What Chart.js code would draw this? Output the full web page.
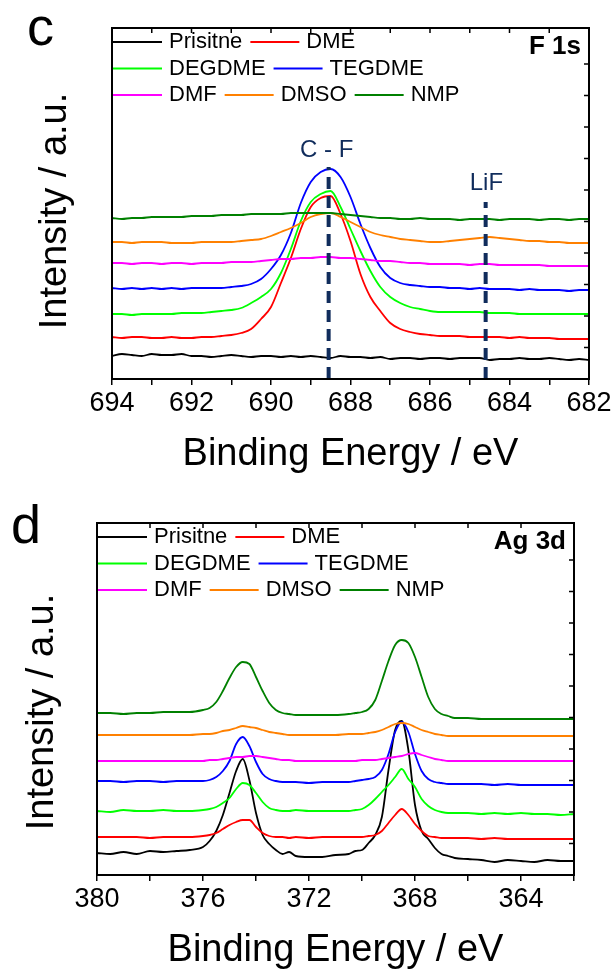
<!DOCTYPE html>
<html>
<head>
<meta charset="utf-8">
<script src="https://cdn.jsdelivr.net/npm/chart.js@4.4.1/dist/chart.umd.min.js"></script>
<style>
  html, body { margin: 0; padding: 0; background: #ffffff; }
  #wrap { position: relative; width: 616px; height: 970px; }
  canvas { position: absolute; left: 0; }
  #cvF { top: 0; }
  #cvAg { top: 485px; }
</style>
</head>
<body>
<div id="wrap">
  <canvas id="cvF" width="616" height="485"></canvas>
  <canvas id="cvAg" width="616" height="485"></canvas>
</div>
<script>
// ---- series names / colours shared by both panels ----
const seriesNames = ['Prisitne', 'DME', 'DEGDME', 'TEGDME', 'DMF', 'DMSO', 'NMP'];
const seriesColors = ['#000000', '#ff0000', '#00ff00', '#0000ff', '#ff00ff', '#ff8000', '#008000'];
const legendRows = [[0, 1], [2, 3], [4, 5, 6]];

// ---- F 1s spectra (binding energy, eV) ----
const f1sEnergy = [694, 693.75, 693.5, 693.25, 693, 692.75, 692.5, 692.25, 692, 691.75, 691.5, 691.25, 691, 690.75, 690.5, 690.25, 690, 689.75, 689.5, 689.25, 689, 688.75, 688.5, 688.25, 688, 687.75, 687.5, 687.25, 687, 686.75, 686.5, 686.25, 686, 685.75, 685.5, 685.25, 685, 684.75, 684.5, 684.25, 684, 683.75, 683.5, 683.25, 683, 682.75, 682.5, 682.25, 682];
const f1sPrisitne = [23, 25, 24, 23, 25, 24, 24, 25, 23, 23, 22, 23, 24, 23, 22, 23, 23, 22, 23, 22, 23, 22, 21, 23, 22, 22, 21, 22, 20, 21, 21, 20, 21, 21, 20, 21, 21, 21, 19, 20, 20, 21, 20, 20, 21, 20, 19, 20, 19];
const f1sDME = [42, 41, 42, 42, 41, 41, 42, 41, 41, 42, 42, 43, 44, 46, 50, 60, 72, 96, 121, 150, 172, 181, 183, 165, 138, 105, 82, 68, 56, 50, 47, 45, 44, 43, 43, 43, 42, 42, 42, 42, 41, 42, 41, 41, 41, 40, 40, 40, 40];
const f1sDEGDME = [65, 65, 64, 65, 65, 65, 65, 66, 66, 66, 67, 68, 69, 71, 76, 82, 90, 106, 130, 158, 177, 185, 188, 172, 150, 128, 108, 92, 82, 76, 72, 70, 68, 67, 67, 67, 67, 67, 66, 66, 66, 65, 65, 65, 65, 65, 65, 65, 65];
const f1sTEGDME = [91, 90, 91, 90, 91, 90, 91, 90, 91, 91, 91, 91, 92, 93, 95, 100, 110, 124, 146, 176, 197, 207, 210, 202, 182, 155, 131, 112, 101, 96, 94, 93, 92, 92, 91, 91, 90, 91, 90, 90, 90, 89, 90, 89, 89, 89, 88, 89, 89];
const f1sDMF = [116, 116, 115, 116, 116, 115, 116, 116, 115, 116, 116, 116, 117, 117, 117, 118, 119, 120, 120, 121, 121, 122, 122, 121, 121, 120, 119, 118, 118, 117, 116, 116, 115, 115, 115, 115, 114, 115, 115, 114, 114, 114, 114, 114, 113, 113, 113, 113, 113];
const f1sDMSO = [137, 137, 136, 137, 137, 137, 136, 136, 136, 137, 137, 137, 137, 138, 139, 140, 143, 147, 151, 156, 162, 165, 166, 162, 157, 152, 147, 144, 142, 140, 139, 138, 137, 137, 138, 139, 140, 141, 142, 141, 140, 139, 138, 138, 137, 137, 136, 136, 136];
const f1sNMP = [161, 160, 161, 161, 162, 162, 162, 162, 163, 163, 163, 164, 164, 164, 165, 165, 165, 165, 166, 166, 166, 166, 166, 165, 164, 163, 162, 161, 161, 160, 160, 161, 160, 160, 160, 159, 160, 160, 160, 159, 160, 160, 160, 159, 160, 160, 159, 160, 160];
const f1sTicks = [694, 692, 690, 688, 686, 684, 682];
// peak markers: position, top of dashed line, caption
const f1sMarkerEnergy = [688.55, 684.6];
const f1sMarkerTop = [212, 177];
const f1sMarkerText = ['C - F', 'LiF'];
const f1sMarkerTextY = [229, 196];

// ---- Ag 3d spectra (binding energy, eV) ----
const agEnergy = [380, 379.5, 379, 378.5, 378, 377.5, 377, 376.5, 376, 375.75, 375.5, 375.25, 375, 374.75, 374.5, 374.25, 374, 373.75, 373.5, 373.25, 373, 372.75, 372.5, 372, 371.5, 371, 370.5, 370.25, 370, 369.75, 369.5, 369.25, 369, 368.75, 368.5, 368.25, 368, 367.75, 367.5, 367.25, 367, 366.75, 366.5, 366, 365.5, 365, 364.5, 364, 363.5, 363, 362.5, 362];
const agPrisitne = [22, 21, 23, 21, 24, 23, 24, 25, 28, 34, 44, 60, 82, 104, 116, 95, 62, 40, 31, 25, 21, 23, 19, 18, 18, 20, 21, 24, 25, 32, 40, 58, 105, 145, 154, 125, 70, 44, 36, 27, 21, 19, 17, 16, 15, 13, 15, 14, 13, 15, 14, 14];
const agDME = [38, 38, 38, 38, 37, 38, 38, 38, 39, 40, 42, 46, 50, 53, 55, 55, 48, 42, 39, 38, 38, 37, 38, 37, 38, 38, 38, 38, 38, 39, 40, 44, 52, 60, 66, 60, 51, 44, 39, 38, 37, 37, 37, 37, 36, 37, 36, 36, 36, 36, 36, 36];
const agDEGDME = [64, 63, 65, 64, 64, 65, 64, 64, 65, 66, 68, 72, 77, 86, 92, 90, 82, 73, 67, 65, 64, 64, 65, 64, 64, 64, 64, 65, 66, 70, 76, 83, 90, 98, 106, 96, 88, 76, 69, 65, 63, 62, 62, 62, 61, 62, 61, 62, 61, 61, 60, 61];
const agTEGDME = [94, 94, 93, 94, 94, 93, 94, 94, 94, 95, 98, 104, 114, 131, 138, 129, 113, 101, 96, 94, 93, 93, 93, 92, 93, 93, 93, 94, 95, 96, 98, 105, 121, 143, 153, 143, 121, 104, 96, 93, 92, 91, 91, 91, 91, 90, 91, 90, 90, 90, 90, 90];
const agDMF = [114, 114, 114, 114, 114, 114, 114, 114, 114, 115, 115, 116, 117, 118, 118, 119, 119, 118, 117, 116, 115, 115, 114, 114, 114, 114, 114, 114, 115, 115, 115, 116, 117, 118, 119, 121, 122, 120, 118, 116, 115, 114, 114, 114, 114, 114, 114, 114, 114, 114, 114, 114];
const agDMSO = [140, 140, 140, 140, 140, 140, 140, 140, 141, 141, 142, 144, 145, 147, 149, 148, 147, 145, 143, 142, 141, 140, 140, 140, 140, 140, 141, 141, 141, 142, 143, 145, 148, 151, 152, 151, 148, 145, 143, 141, 140, 139, 139, 139, 139, 139, 139, 139, 139, 139, 139, 139];
const agNMP = [162, 162, 161, 162, 162, 163, 163, 163, 165, 167, 173, 184, 197, 208, 213, 211, 198, 184, 172, 165, 162, 161, 160, 160, 160, 160, 161, 162, 163, 166, 175, 194, 214, 230, 235, 232, 218, 198, 178, 166, 161, 159, 157, 157, 156, 156, 156, 156, 156, 156, 156, 156];
const agTicks = [380, 376, 372, 368, 364];

const FONT = '"Liberation Sans", Arial, Helvetica, sans-serif';
const MARKER_COLOR = '#102c5c';

function toPoints(xs, ys) {
  return xs.map((x, i) => ({ x: x, y: ys[i] }));
}

function spectrumDatasets(energy, seriesList) {
  return seriesList.map((vals, i) => ({
    label: seriesNames[i],
    data: toPoints(energy, vals),
    borderColor: seriesColors[i],
    backgroundColor: seriesColors[i],
    borderWidth: 1.8,
    pointRadius: 0,
    cubicInterpolationMode: 'monotone',
    fill: false,
    order: 1 + (seriesList.length - 1 - i)
  }));
}

// frame, inward ticks, in-plot legend and annotations
const decorPlugin = {
  id: 'decor',
  afterDraw(chart, args, o) {
    const ctx = chart.ctx;
    const a = chart.chartArea;
    const xs = chart.scales.x;
    const ys = chart.scales.y;
    ctx.save();

    // axis frame
    ctx.strokeStyle = '#000';
    ctx.lineWidth = 2;
    ctx.strokeRect(a.left, a.top, a.right - a.left, a.bottom - a.top);

    // mirror ticks pointing inward on top and right edges
    ctx.lineWidth = 1.5;
    ctx.beginPath();
    xs.ticks.forEach(t => {
      const px = xs.getPixelForValue(t.value);
      ctx.moveTo(px, a.top);
      ctx.lineTo(px, a.top + 5);
    });
    ys.ticks.forEach(t => {
      const py = ys.getPixelForValue(t.value);
      if (py > a.top + 2 && py < a.bottom - 2) {
        ctx.moveTo(a.right, py);
        ctx.lineTo(a.right - 5, py);
      }
    });
    ctx.stroke();

    // legend: short line + label, fixed rows
    ctx.font = '22px ' + FONT;
    ctx.textBaseline = 'middle';
    ctx.textAlign = 'left';
    legendRows.forEach((row, r) => {
      let x = a.left + 1;
      const y = a.top + o.rowY[r];
      row.forEach(i => {
        const ds = chart.data.datasets[i];
        ctx.strokeStyle = ds.borderColor;
        ctx.lineWidth = 1.8;
        ctx.beginPath();
        ctx.moveTo(x, y);
        ctx.lineTo(x + 49, y);
        ctx.stroke();
        ctx.fillStyle = '#000';
        ctx.fillText(ds.label, x + 56, y);
        x += 56 + ctx.measureText(ds.label).width + 8;
      });
    });

    // core-level tag
    ctx.font = 'bold 26px ' + FONT;
    ctx.textAlign = 'right';
    ctx.fillStyle = '#000';
    ctx.fillText(o.tag, a.right - 8, a.top + 19);

    // marker captions
    if (o.markers) {
      ctx.font = '24px ' + FONT;
      ctx.textAlign = 'center';
      ctx.fillStyle = MARKER_COLOR;
      o.markers.text.forEach((t, k) => {
        ctx.fillText(t, xs.getPixelForValue(o.markers.energy[k]), ys.getPixelForValue(o.markers.textY[k]));
      });
    }

    // panel letter
    ctx.font = '54px ' + FONT;
    ctx.textAlign = 'left';
    ctx.textBaseline = 'alphabetic';
    ctx.fillStyle = '#000';
    ctx.fillText(o.letter, o.letterX, o.letterY);

    // vertical axis title
    ctx.save();
    ctx.translate(o.yTitleX, o.yTitleY);
    ctx.rotate(-Math.PI / 2);
    ctx.font = '38px ' + FONT;
    ctx.textAlign = 'center';
    ctx.textBaseline = 'middle';
    ctx.fillText('Intensity / a.u.', 0, 0);
    ctx.restore();

    ctx.restore();
  }
};

function makeChart(canvasId, cfg) {
  const datasets = spectrumDatasets(cfg.energy, cfg.series);
  if (cfg.markers) {
    cfg.markers.energy.forEach((e, k) => {
      datasets.push({
        label: cfg.markers.text[k],
        data: [{ x: e, y: 0 }, { x: e, y: cfg.markers.top[k] }],
        borderColor: MARKER_COLOR,
        borderWidth: 4,
        borderDash: [12, 7],
        pointRadius: 0,
        fill: false,
        order: 0
      });
    });
  }
  return new Chart(document.getElementById(canvasId), {
    type: 'line',
    data: { datasets: datasets },
    plugins: [decorPlugin],
    options: {
      responsive: false,
      animation: false,
      devicePixelRatio: 1,
      layout: { padding: cfg.padding },
      plugins: {
        legend: { display: false },
        tooltip: { enabled: false },
        decor: {
          rowY: [14, 40.5, 67],
          tag: cfg.tag,
          letter: cfg.letter,
          letterX: cfg.letterX,
          letterY: cfg.letterY,
          yTitleX: cfg.yTitleX,
          yTitleY: cfg.yTitleY,
          markers: cfg.markers ? { energy: cfg.markers.textEnergy, text: cfg.markers.text, textY: cfg.markers.textY } : null
        }
      },
      scales: {
        x: {
          type: 'linear',
          min: cfg.xMin,
          max: cfg.xMax,
          reverse: true,
          afterBuildTicks: s => { s.ticks = cfg.allTicks.map(v => ({ value: v })); },
          ticks: {
            autoSkip: false,
            maxRotation: 0,
            minRotation: 0,
            padding: 2,
            color: '#000',
            font: { family: FONT, size: 27 },
            callback: v => (cfg.labelled.includes(v) ? String(v) : '')
          },
          grid: { display: true, drawOnChartArea: false, drawTicks: true, tickLength: 6, color: '#000', lineWidth: 1.5 },
          border: { display: false },
          title: {
            display: true,
            text: 'Binding Energy / eV',
            color: '#000',
            font: { family: FONT, size: 38 },
            padding: { top: 0, bottom: cfg.xTitlePad }
          },
          afterFit: s => { s.height = cfg.xHeight; }
        },
        y: {
          type: 'linear',
          min: 0,
          max: cfg.yMax,
          ticks: { display: false, stepSize: 31.5 },
          grid: { display: false },
          border: { display: false },
          afterFit: s => { s.width = cfg.yWidth; }
        }
      }
    }
  });
}

function tickRange(from, to, step) {
  const out = [];
  for (let v = from; v >= to; v -= step) out.push(v);
  return out;
}

makeChart('cvF', {
  energy: f1sEnergy,
  series: [f1sPrisitne, f1sDME, f1sDEGDME, f1sTEGDME, f1sDMF, f1sDMSO, f1sNMP],
  xMin: 682, xMax: 694,
  allTicks: tickRange(694, 682, 1),
  labelled: f1sTicks,
  yMax: 351,
  padding: { left: 0, right: 27, top: 28, bottom: 0 },
  yWidth: 112, xHeight: 106, xTitlePad: 8,
  tag: 'F 1s', letter: 'c', letterX: 27, letterY: 45,
  yTitleX: 56, yTitleY: 211,
  markers: { energy: f1sMarkerEnergy, top: f1sMarkerTop, text: f1sMarkerText, textY: f1sMarkerTextY, textEnergy: [688.6, 684.58] }
});

makeChart('cvAg', {
  energy: agEnergy,
  series: [agPrisitne, agDME, agDEGDME, agTEGDME, agDMF, agDMSO, agNMP],
  xMin: 362, xMax: 380,
  allTicks: tickRange(380, 362, 2),
  labelled: agTicks,
  yMax: 352,
  padding: { left: 0, right: 42, top: 38, bottom: 0 },
  yWidth: 97, xHeight: 95, xTitlePad: -3,
  tag: 'Ag 3d', letter: 'd', letterX: 11, letterY: 58,
  yTitleX: 43, yTitleY: 227,
  markers: null
});
</script>
</body>
</html>
